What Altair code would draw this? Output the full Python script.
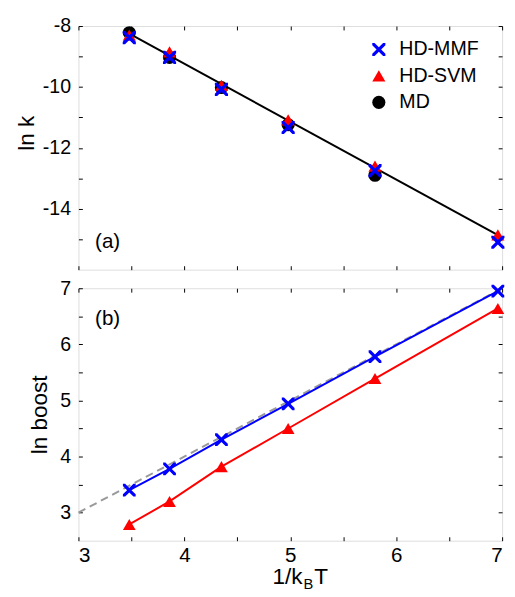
import altair as alt
import pandas as pd

# ---------------- data ----------------
x_vals = [3.48, 3.86, 4.35, 4.98, 5.80, 6.96]
lnk_md = [-8.22, -9.03, -10.02, -11.24, -12.90]
lnk_mmf = [-8.38, -9.03, -10.08, -11.33, -12.75, -15.10]
lnk_svm = [-8.30, -8.85, -9.95, -11.08, -12.60, -14.86]
fit_x = [3.48, 7.0]
fit_y = [-8.25, -14.94]
boost_mmf = [3.40, 3.78, 4.30, 4.94, 5.78, 6.95]
boost_svm = [2.79, 3.20, 3.82, 4.50, 5.39, 6.64]
ref_x = [3.0, 7.0]
ref_y = [3.0, 7.0]
series = ["HD-MMF", "HD-SVM", "MD"]
colors = ["#0000ff", "#ff0000", "#000000"]
x_ticks = [3.0, 3.5, 4.0, 4.5, 5.0, 5.5, 6.0, 6.5, 7.0]
y1_ticks = [-15, -14, -13, -12, -11, -10, -9, -8]
y2_ticks = [3.0, 3.5, 4.0, 4.5, 5.0, 5.5, 6.0, 6.5, 7.0]

FONT = "Liberation Sans"
W, H1, H2 = 433, 249, 258

X_SHAPE = ("M-1,-1L-0.65,-1L0,-0.35L0.65,-1L1,-1L1,-0.65L0.35,0L1,0.65L1,1"
           "L0.65,1L0,0.35L-0.65,1L-1,1L-1,0.65L-0.35,0L-1,-0.65Z")

color_scale = alt.Scale(domain=series, range=colors)
shape_scale = alt.Scale(domain=series, range=[X_SHAPE, "triangle-up", "circle"])

# top panel data (drawing order: MD, SVM, MMF)
top_rows = []
for xv, yv in zip(x_vals, lnk_md):
    top_rows.append({"series": "MD", "x": xv, "y": yv})
for xv, yv in zip(x_vals, lnk_svm):
    top_rows.append({"series": "HD-SVM", "x": xv, "y": yv})
for xv, yv in zip(x_vals, lnk_mmf):
    top_rows.append({"series": "HD-MMF", "x": xv, "y": yv})
df_top = pd.DataFrame(top_rows)
df_fit = pd.DataFrame({"x": fit_x, "y": fit_y})

bot_rows = []
for xv, yv in zip(x_vals, boost_svm):
    bot_rows.append({"series": "HD-SVM", "x": xv, "y": yv})
for xv, yv in zip(x_vals, boost_mmf):
    bot_rows.append({"series": "HD-MMF", "x": xv, "y": yv})
df_bot = pd.DataFrame(bot_rows)
df_ref = pd.DataFrame({"x": ref_x, "y": ref_y})


def x_enc(show_labels, H):
    return alt.X(
        "x:Q",
        scale=alt.Scale(domain=[3, 7], nice=False, zero=False),
        axis=alt.Axis(
            values=x_ticks, labels=show_labels,
            labelExpr="datum.value % 1 === 0 ? toString(datum.value) : ''",
            tickSize=0, domain=False, grid=True, gridColor="black",
            gridOpacity=1, gridWidth=1, gridDash=[4, H - 8, 4, 3000],
            title=None, labelFontSize=21, labelPadding=4, labelFont=FONT,
            labelColor="black",
        ),
    )


def y_enc(domain, ticks, expr, title, pad, title_y=None):
    kw = {}
    if title_y is not None:
        kw["titleY"] = title_y
    return alt.Y(
        "y:Q",
        scale=alt.Scale(domain=domain, nice=False, zero=False),
        axis=alt.Axis(
            values=ticks, labelExpr=expr, tickSize=0, domain=False,
            grid=True, gridColor="black", gridOpacity=1, gridWidth=1,
            gridDash=[4, W - 8, 4, 3000], title=title, titleFontSize=23,
            titleFont=FONT, titleFontWeight="normal", titleColor="black",
            titlePadding=pad, labelFontSize=20, labelPadding=8,
            labelFont=FONT, labelColor="black", **kw,
        ),
    )


y1 = y_enc([-16, -8], y1_ticks,
           "datum.value % 2 === 0 ? toString(datum.value) : ''",
           "ln k", 4, 109)
y2 = y_enc([2.5, 7], y2_ticks,
           "datum.value % 1 === 0 ? toString(datum.value) : ''",
           "ln boost", 9)

fit_line = alt.Chart(df_fit).mark_line(color="black", strokeWidth=2).encode(
    x=x_enc(False, H1), y=y1)

top_pts = alt.Chart(df_top).mark_point(filled=True, size=180, opacity=1).encode(
    x=x_enc(False, H1), y=y1,
    color=alt.Color("series:N", scale=color_scale,
                    legend=alt.Legend(title=None, orient="none", legendX=297,
                                      legendY=14, labelFont=FONT,
                                      labelFontSize=20, labelColor="black",
                                      symbolSize=180, symbolStrokeWidth=0,
                                      rowPadding=7, padding=0, labelOffset=11)),
    shape=alt.Shape("series:N", scale=shape_scale, legend=None),
)

label_a = alt.Chart(pd.DataFrame({"t": ["(a)"]})).mark_text(
    align="left", baseline="middle", fontSize=21, font=FONT, color="black"
).encode(x=alt.value(17), y=alt.value(221), text="t:N")

top = alt.layer(fit_line, top_pts, label_a).properties(width=W, height=H1)

ref_line = alt.Chart(df_ref).mark_line(
    color="#999999", strokeWidth=2, strokeDash=[8, 5]
).encode(x=x_enc(True, H2), y=y2)

bot_lines = alt.Chart(df_bot).mark_line(strokeWidth=2).encode(
    x=x_enc(True, H2), y=y2,
    color=alt.Color("series:N", scale=color_scale, legend=None),
)
bot_pts = alt.Chart(df_bot).mark_point(filled=True, size=170, opacity=1).encode(
    x=x_enc(True, H2), y=y2,
    color=alt.Color("series:N", scale=color_scale, legend=None),
    shape=alt.Shape("series:N", scale=shape_scale, legend=None),
)

label_b = alt.Chart(pd.DataFrame({"t": ["(b)"]})).mark_text(
    align="left", baseline="middle", fontSize=21, font=FONT, color="black"
).encode(x=alt.value(17), y=alt.value(32), text="t:N")

xt1 = alt.Chart(pd.DataFrame({"t": ["1/k"]})).mark_text(
    align="right", baseline="alphabetic", fontSize=23, font=FONT, color="black"
).encode(x=alt.value(229), y=alt.value(302), text="t:N")
xt2 = alt.Chart(pd.DataFrame({"t": ["B"]})).mark_text(
    align="left", baseline="alphabetic", fontSize=15, font=FONT, color="black"
).encode(x=alt.value(230), y=alt.value(307), text="t:N")
xt3 = alt.Chart(pd.DataFrame({"t": ["T"]})).mark_text(
    align="left", baseline="alphabetic", fontSize=23, font=FONT, color="black"
).encode(x=alt.value(241), y=alt.value(302), text="t:N")

bottom = alt.layer(ref_line, bot_lines, bot_pts, label_b, xt1, xt2, xt3).properties(
    width=W, height=H2)

chart = alt.vconcat(top, bottom, spacing=7).resolve_scale(
    color="independent", shape="independent"
).configure_view(stroke="black", strokeWidth=2).configure(
    padding={"left": 7, "top": 1, "right": 0, "bottom": -8},
    background="white",
)

chart.save("out.html", embed_options={"renderer": "svg", "actions": False})
